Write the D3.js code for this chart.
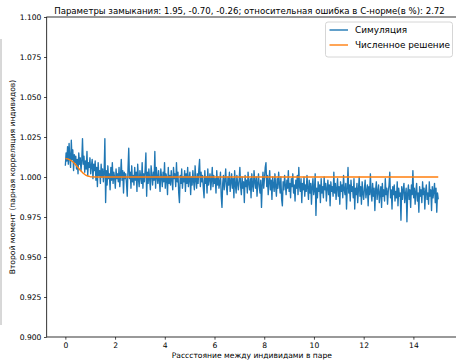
<!DOCTYPE html>
<html>
<head>
<meta charset="utf-8">
<script src="https://cdn.jsdelivr.net/npm/d3@7"></script>
<style>
  body { margin: 0; background: #fff; }
  svg { display: block; font-family: "DejaVu Sans", sans-serif; }
</style>
</head>
<body>
<div id="vis"></div>
<script>
// set constants
const FRAME_WIDTH = 456;
const FRAME_HEIGHT = 360;
const AX = {left: 46.7, right: 456.9, top: 17, bottom: 337};

// data
const TITLE = "Параметры замыкания: 1.95, -0.70, -0.26; относительная ошибка в С-норме(в %): 2.72";
const X_LABEL = "Рассстояние между индивидами в паре";
const Y_LABEL = "Второй момент (парная корреляция индивидов)";
const SERIES_NAMES = ["Симуляция", "Численное решение"];
const X_TICKS = [0, 2, 4, 6, 8, 10, 12, 14];
const Y_TICKS = [0.900, 0.925, 0.950, 0.975, 1.000, 1.025, 1.050, 1.075, 1.100];

// simulation: evenly spaced samples from x = 0 to x = 15
const SIM_X_START = 0;
const SIM_X_END = 15;
const SIM_Y = [
  1.007, 1.015, 1.010, 1.019, 1.008, 1.021, 1.012, 1.006,
  1.023, 1.011, 1.017, 1.004, 1.014, 1.009,
  1.013, 1.005, 1.011, 1.002, 1.015, 1.008, 1.012, 1.004, 1.010,
  1.024,
  1.008, 1.013, 1.003, 1.010, 1.005, 1.016, 1.001, 1.009, 1.006, 1.012, 1.002, 1.007, 1.011, 0.999, 1.008, 1.004, 1.010,
  0.998, 1.006, 0.994, 1.009, 1.001, 1.004, 0.996, 1.008, 1.000, 1.005, 0.997, 1.003, 1.024,
  0.984,
  1.004, 0.995, 1.007, 0.999, 1.002, 0.992, 1.006, 0.998, 1.009, 0.996, 1.003, 1.000, 0.993, 1.005, 0.999, 1.002,
  0.997, 1.006, 0.994, 1.001, 1.011, 0.998, 1.004, 0.990, 1.003, 0.999,
  1.002, 0.996, 0.988, 1.005, 1.018, 0.999, 1.003, 0.993, 1.007, 0.997,
  1.001, 0.995, 1.006, 0.998, 1.003, 0.991, 1.008, 0.999, 0.994, 1.004, 1.000, 0.996, 1.009, 0.993, 1.002, 0.997, 1.005, 1.015, 0.988, 1.003,
  0.996, 1.005, 0.999, 0.992, 1.007, 1.001, 0.995, 1.003, 0.998, 1.016, 0.993, 1.006, 1.000, 0.996, 1.004,
  0.998, 0.991, 1.005, 1.000, 0.994, 1.003, 0.997, 1.009, 0.993, 1.002, 0.999, 0.989, 1.006, 0.996, 1.001,
  0.995, 1.004, 0.998, 0.992, 1.006, 0.999, 1.002, 0.994, 1.009, 0.997, 1.003, 0.990, 0.984, 1.001, 0.996, 1.005, 0.993, 1.000, 0.997, 1.004,
  0.991, 1.002, 0.996, 1.006, 0.994, 0.999, 1.003, 0.989, 1.000, 0.995, 1.004, 0.997, 0.992, 1.007, 0.998, 0.993, 1.002, 0.996, 1.005, 1.011,
  0.994, 1.003, 0.997, 1.001, 0.993, 0.987, 1.004, 0.996, 1.000, 0.990, 1.005, 0.995, 0.999, 1.002, 0.992, 0.998, 1.006, 0.994, 1.001, 0.996,
  0.999, 0.990, 1.004, 0.995, 1.000, 0.993, 0.997, 1.003, 0.988, 0.981, 0.996, 1.001, 0.992, 0.998, 1.005, 0.994, 0.989, 1.000, 0.995, 1.003,
  0.991, 0.997, 1.002, 0.993, 0.999, 0.987, 1.004, 0.995, 0.990, 1.001, 0.996, 0.992, 0.998, 1.006, 0.994, 0.989, 1.000, 0.993, 0.997, 0.984,
  1.001, 0.994, 0.998, 0.990, 1.003, 0.996, 0.992, 0.999, 0.987, 1.002, 0.995, 0.991, 1.004, 0.997, 0.993, 1.000, 0.988, 0.996, 1.002, 0.994,
  0.990, 0.998, 0.981, 0.995, 1.003, 0.993, 0.999, 1.006, 1.009, 0.994, 1.001, 0.989, 0.997, 1.004, 0.992, 0.998, 0.986, 1.000, 0.995, 0.991,
  1.002, 0.994, 0.988, 0.999, 0.993, 1.003, 0.996, 0.990, 1.000, 0.986, 0.982, 0.997, 0.992, 1.001, 0.995, 0.989, 0.998, 0.993, 1.004, 0.991,
  0.996, 0.987, 0.999, 0.994, 1.002, 0.990, 0.995, 0.985, 0.998, 0.993, 1.001, 0.989, 1.006, 0.994, 0.991, 0.999, 0.984, 0.996, 0.992, 1.000,
  0.988, 0.995, 0.991, 1.001, 0.993, 0.986, 0.998, 0.990, 0.996, 0.983, 0.994, 0.999, 0.989, 0.992, 1.002, 0.976, 0.993, 0.987, 0.997, 0.991,
  0.995, 0.984, 0.999, 0.990, 0.994, 0.987, 1.000, 0.992, 0.996, 0.985, 0.993, 0.998, 0.989, 0.995, 0.982, 0.997, 0.991, 0.994, 0.988, 1.003,
  0.990, 0.996, 0.986, 0.993, 0.999, 0.988, 0.994, 0.983, 0.997, 0.991, 0.995, 0.987, 1.001, 0.992, 0.989, 0.996, 0.980, 0.993, 1.006, 0.990,
  0.995, 0.985, 0.998, 0.991, 0.994, 0.987, 0.999, 0.980, 0.993, 0.989, 0.996, 0.984, 0.992, 1.000, 0.988, 0.994, 0.983, 0.997, 0.990, 0.986,
  0.993, 0.998, 0.987, 0.991, 0.995, 0.982, 0.994, 0.989, 1.002, 0.990, 0.985, 0.996, 0.988, 0.993, 0.979, 0.992, 0.997, 0.986, 0.991, 0.995,
  0.984, 0.990, 0.994, 0.981, 0.996, 0.988, 0.992, 0.985, 0.999, 0.989, 0.993, 0.983, 0.991, 0.995, 1.003, 0.987, 0.992, 0.980, 0.994, 0.989,
  0.995, 0.985, 0.991, 0.987, 0.997, 0.982, 0.993, 0.988, 0.990, 0.973, 0.994, 0.986, 0.992, 0.996, 0.984, 0.989, 0.993, 0.972, 0.990, 0.995,
  0.986, 0.992, 0.981, 0.995, 0.989, 1.004, 0.987, 0.993, 0.983, 0.991, 0.996, 0.985, 0.990, 0.978, 0.994, 0.988, 0.992, 0.984, 0.997, 0.989,
  0.993, 0.980, 0.991, 0.995, 0.986, 0.990, 0.983, 0.997, 0.988, 0.992, 0.979, 0.994, 0.987, 0.991, 0.996, 0.984, 0.993, 0.978, 0.990, 0.986
];

// numerical solution
const NUM_X = [0, 0.1, 0.2, 0.3, 0.4, 0.5, 0.6, 0.7, 0.8, 0.9, 1.0, 1.1, 1.2, 1.4, 15];
const NUM_Y = [1.0115, 1.0113, 1.0106, 1.0095, 1.0080, 1.0061, 1.0042, 1.0026, 1.0014, 1.0006, 1.0002, 1.0001, 1.0000, 1.0000, 1.0000];

const COLORS = ["#1f77b4", "#ff7f0e"];

// make svg frame
const FRAME = d3.select("#vis")
                  .append("svg")
                    .attr("width", FRAME_WIDTH)
                    .attr("height", FRAME_HEIGHT);

const X_SCALE = d3.scaleLinear()
                    .domain([-0.75, 15.75])
                    .range([AX.left, AX.right]);

const Y_SCALE = d3.scaleLinear()
                    .domain([0.9, 1.1])
                    .range([AX.bottom, AX.top]);

// stray edge of a neighbouring panel
FRAME.append("line")
      .attr("x1", 1).attr("x2", 1)
      .attr("y1", 39).attr("y2", 325)
      .attr("stroke", "#b0b0b0")
      .attr("stroke-width", 1);

// clip to the axes
FRAME.append("clipPath").attr("id", "clip")
  .append("rect")
    .attr("x", AX.left).attr("y", AX.top)
    .attr("width", AX.right - AX.left).attr("height", AX.bottom - AX.top);

const simStep = (SIM_X_END - SIM_X_START) / (SIM_Y.length - 1);
const simData = SIM_Y.map((v, i) => ({x: SIM_X_START + i * simStep, y: v}));
const numData = NUM_X.map((x, i) => ({x: x, y: NUM_Y[i]}));

const line = d3.line()
                .x((d) => X_SCALE(d.x))
                .y((d) => Y_SCALE(d.y));

const plot = FRAME.append("g").attr("clip-path", "url(#clip)");

plot.append("path")
      .datum(simData)
      .attr("d", line)
      .attr("fill", "none")
      .attr("stroke", COLORS[0])
      .attr("stroke-width", 1.35)
      .attr("stroke-linejoin", "round");

plot.append("path")
      .datum(numData)
      .attr("d", line)
      .attr("fill", "none")
      .attr("stroke", COLORS[1])
      .attr("stroke-width", 1.4)
      .attr("stroke-linejoin", "round");

// x axis
const xAxis = FRAME.append("g")
      .attr("transform", "translate(0," + AX.bottom + ")")
      .call(d3.axisBottom(X_SCALE).tickValues(X_TICKS).tickFormat(d3.format("d"))
              .tickSize(2.7).tickPadding(2.6));

// y axis
const yAxis = FRAME.append("g")
      .attr("transform", "translate(" + AX.left + ",0)")
      .call(d3.axisLeft(Y_SCALE).tickValues(Y_TICKS).tickFormat(d3.format(".3f"))
              .tickSize(2.7).tickPadding(2.6));

[xAxis, yAxis].forEach((g) => {
  g.select(".domain").remove();
  g.selectAll("line").attr("stroke", "#000").attr("stroke-width", 0.7);
  g.selectAll("text").attr("font-size", "7.6px").attr("fill", "#000")
    .attr("font-family", "DejaVu Sans");
});

// spines
FRAME.append("rect")
      .attr("x", AX.left).attr("y", AX.top)
      .attr("width", AX.right - AX.left).attr("height", AX.bottom - AX.top)
      .attr("fill", "none")
      .attr("stroke", "#000")
      .attr("stroke-width", 0.8);

// title and labels
FRAME.append("text")
      .attr("x", 249.5)
      .attr("y", 13.5)
      .attr("text-anchor", "middle")
      .attr("font-size", "8.6px")
      .text(TITLE);

FRAME.append("text")
      .attr("x", (AX.left + AX.right) / 2)
      .attr("y", 357.5)
      .attr("text-anchor", "middle")
      .attr("font-size", "7.6px")
      .text(X_LABEL);

FRAME.append("text")
      .attr("transform", "translate(15," + ((AX.top + AX.bottom) / 2) + ") rotate(-90)")
      .attr("text-anchor", "middle")
      .attr("font-size", "7.6px")
      .text(Y_LABEL);

// legend
const legend = FRAME.append("g").attr("transform", "translate(325.5,22)");
legend.append("rect")
      .attr("width", 127).attr("height", 35)
      .attr("rx", 2.5)
      .attr("fill", "#fff").attr("fill-opacity", 0.8)
      .attr("stroke", "#cccccc").attr("stroke-width", 0.8);

SERIES_NAMES.forEach((name, i) => {
  const ly = 8 + i * 15;
  legend.append("line")
        .attr("x1", 4).attr("x2", 22.5)
        .attr("y1", ly).attr("y2", ly)
        .attr("stroke", COLORS[i]).attr("stroke-width", 1.4);
  legend.append("text")
        .attr("x", 29.5).attr("y", ly + 3.2)
        .attr("font-size", "8.9px")
        .text(name);
});
</script>
</body>
</html>
